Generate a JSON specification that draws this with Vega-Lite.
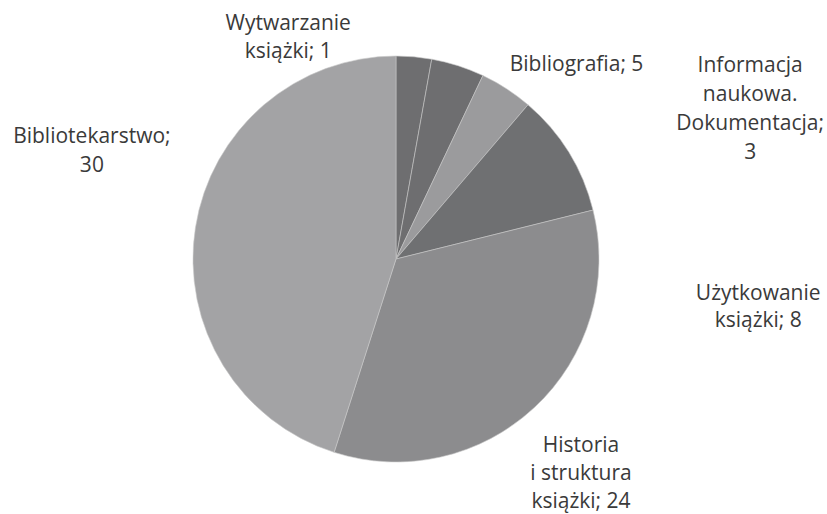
{
  "$schema": "https://vega.github.io/schema/vega-lite/v6.json",
  "width": 792,
  "height": 510,
  "autosize": {"type": "none"},
  "padding": {"left": 0, "right": 35, "top": 4, "bottom": 0},
  "background": "white",
  "config": {"view": {"stroke": null}},
  "data": {
    "values": [
      {"idx": 1, "category": "Wytwarzanie książki", "label": "Wytwarzanie\nksiążki; 1", "count": 1, "value": 2},
      {"idx": 2, "category": "Informacja naukowa. Dokumentacja", "label": "Informacja\nnaukowa.\nDokumentacja;\n3", "count": 3, "value": 3},
      {"idx": 3, "category": "Bibliografia", "label": "Bibliografia; 5", "count": 5, "value": 3},
      {"idx": 4, "category": "Użytkowanie książki", "label": "Użytkowanie\nksiążki; 8", "count": 8, "value": 7},
      {"idx": 5, "category": "Historia i struktura książki", "label": "Historia\ni struktura\nksiążki; 24", "count": 24, "value": 24},
      {"idx": 6, "category": "Bibliotekarstwo", "label": "Bibliotekarstwo;\n30", "count": 30, "value": 32}
    ]
  },
  "encoding": {
    "theta": {"field": "value", "type": "quantitative", "stack": true},
    "order": {"field": "idx", "type": "quantitative"}
  },
  "layer": [
    {
      "mark": {"type": "arc", "outerRadius": 203, "stroke": "#c8c8c8", "strokeWidth": 0.6},
      "encoding": {
        "color": {
          "field": "category",
          "type": "nominal",
          "scale": {
            "domain": ["Wytwarzanie książki", "Informacja naukowa. Dokumentacja", "Bibliografia", "Użytkowanie książki", "Historia i struktura książki", "Bibliotekarstwo"],
            "range": ["#6e6e70", "#6e6e70", "#9b9b9d", "#6f7072", "#8c8c8e", "#a3a3a5"]
          },
          "legend": null
        }
      }
    },
    {
      "mark": {"type": "text", "radius": 240, "dx": -129, "dy": 10, "align": "center", "baseline": "alphabetic", "lineBreak": "\n", "fontSize": 21, "lineHeight": 28, "font": "Open Sans", "fill": "#3a3a3a"},
      "encoding": {"text": {"condition": {"test": "datum.idx === 1", "field": "label"}, "value": ""}}
    },
    {
      "mark": {"type": "text", "radius": 240, "dx": 281, "dy": 42, "align": "center", "baseline": "alphabetic", "lineBreak": "\n", "fontSize": 21, "lineHeight": 29, "font": "Open Sans", "fill": "#3a3a3a"},
      "encoding": {"text": {"condition": {"test": "datum.idx === 2", "field": "label"}, "value": ""}}
    },
    {
      "mark": {"type": "text", "radius": 240, "dx": 50, "dy": 13, "align": "center", "baseline": "alphabetic", "lineBreak": "\n", "fontSize": 21, "lineHeight": 28, "font": "Open Sans", "fill": "#3a3a3a"},
      "encoding": {"text": {"condition": {"test": "datum.idx === 3", "field": "label"}, "value": ""}}
    },
    {
      "mark": {"type": "text", "radius": 240, "dx": 158, "dy": 167, "align": "center", "baseline": "alphabetic", "lineBreak": "\n", "fontSize": 21, "lineHeight": 27, "font": "Open Sans", "fill": "#3a3a3a"},
      "encoding": {"text": {"condition": {"test": "datum.idx === 4", "field": "label"}, "value": ""}}
    },
    {
      "mark": {"type": "text", "radius": 240, "dx": 21, "dy": 18, "align": "center", "baseline": "alphabetic", "lineBreak": "\n", "fontSize": 21, "lineHeight": 28, "font": "Open Sans", "fill": "#3a3a3a"},
      "encoding": {"text": {"condition": {"test": "datum.idx === 5", "field": "label"}, "value": ""}}
    },
    {
      "mark": {"type": "text", "radius": 240, "dx": -67, "dy": -79, "align": "center", "baseline": "alphabetic", "lineBreak": "\n", "fontSize": 21, "lineHeight": 29, "font": "Open Sans", "fill": "#3a3a3a"},
      "encoding": {"text": {"condition": {"test": "datum.idx === 6", "field": "label"}, "value": ""}}
    }
  ]
}
